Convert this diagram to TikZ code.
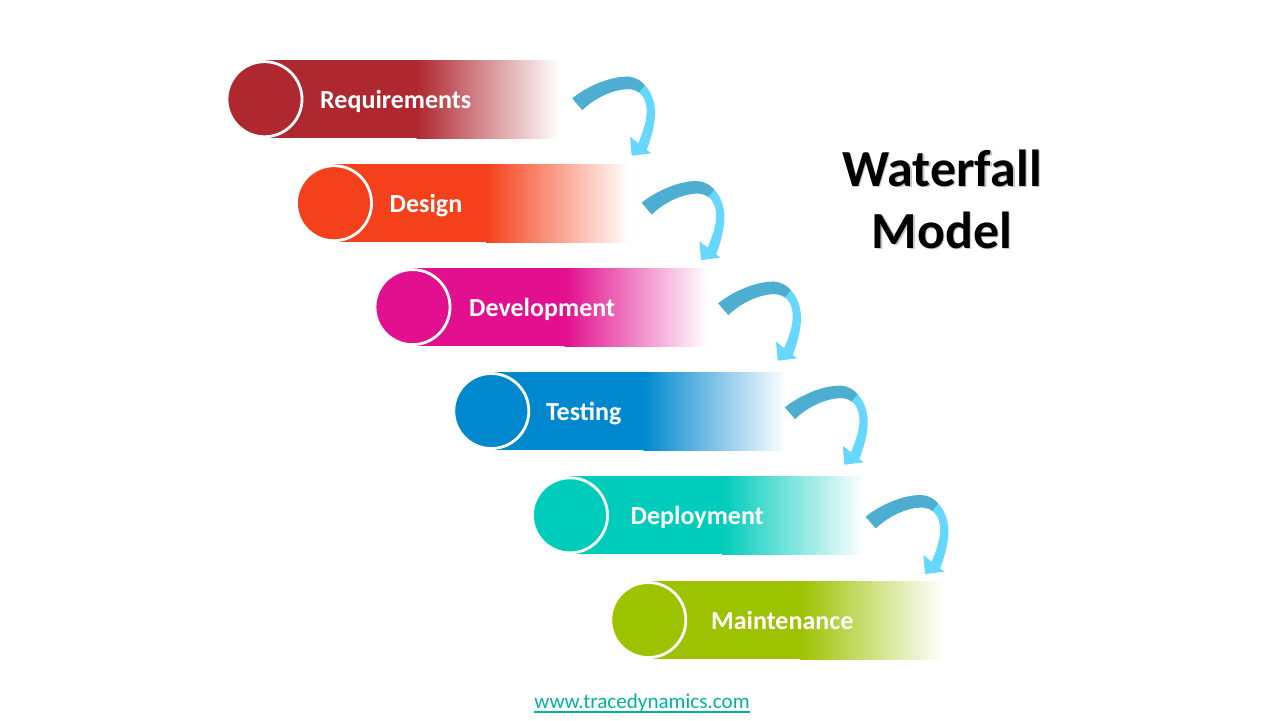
\documentclass[tikz,border=0pt]{standalone}
\usepackage{fontspec}
\setmainfont{Carlito}
\usetikzlibrary{calc,positioning}

\definecolor{reqred}{RGB}{175,39,47}
\definecolor{desorange}{RGB}{245,65,27}
\definecolor{devmagenta}{RGB}{226,15,142}
\definecolor{testblue}{RGB}{0,136,207}
\definecolor{depteal}{RGB}{0,204,187}
\definecolor{maingreen}{RGB}{157,194,0}
\definecolor{arrdark}{RGB}{77,174,209}
\definecolor{arrlight}{RGB}{102,215,255}
\definecolor{linkteal}{RGB}{0,178,160}

\tikzset{
  stepdot/.style={circle, inner sep=0pt, minimum size=7.5mm, draw=white, line width=0.8pt},
  steplabel/.style={anchor=base west, inner sep=0pt, text=white, font=\fontsize{7.4}{9}\selectfont\bfseries},
  titletext/.style={anchor=base, inner sep=0pt, font=\fontsize{14.8}{18}\selectfont\bfseries},
}

% curved arrow between two steps, tail corner at the origin
\newcommand{\fallarrowpath}{(0,0) .. controls (15,-12) and (38,-22) .. (56,-21.6)
  .. controls (70,-21) and (83.5,-5) .. (82.7,16.7)
  .. controls (82,30) and (78,42) .. (74.4,51.7) -- (78.7,55) -- (59.4,57.4) -- (57.7,38.4) -- (66,45)
  .. controls (70,35) and (75,22) .. (74.4,11.7)
  .. controls (74,0) and (68,-9) .. (56,-9.3)
  .. controls (40,-9) and (22,0) .. (10,11.7) -- cycle}

\begin{document}
\begin{tikzpicture}[x=0.01cm, y=-0.01cm]
    \useasboundingbox (0,0) rectangle (1280,720);

    % steps
    \foreach \name/\col/\cx/\cy/\tx [count=\i] in {
        Requirements/reqred/264.5/99.2/55,
        Design/desorange/334/203.2/55,
        Development/devmagenta/412.5/307.1/56,
        Testing/testblue/491.3/411/54,
        Deployment/depteal/570/515.3/60,
        Maintenance/maingreen/648.3/620/62}
    {
    \fill[\col] (\cx,\cy-39) rectangle (\cx+153,\cy+39);
    \shade[left color=\col, right color=white] (\cx+152,\cy-39) rectangle (\cx+295,\cy+39);
    \node[stepdot, fill=\col] (c\i) at (\cx,\cy) {};
    \node[steplabel] (t\i) at ($(c\i)+(\tx,9.5)$) {\name};
    }

    % arrows
    \foreach \ax/\ay [count=\i] in {572.3/98.3, 641.7/202.7, 718.3/303.3, 785/407.3, 865.7/516.7}
    {
    \coordinate (a\i) at (\ax,\ay);
    \begin{scope}[shift={(a\i)}]
        \fill[arrlight] \fallarrowpath;
        \begin{scope}
            \clip (94,-41) -- (31,40) -- (-20,40) -- (-20,-41) -- cycle;
            \fill[arrdark] \fallarrowpath;
        \end{scope}
    \end{scope}
    }

    % title
    \node[titletext, text=black!22] (shadow1) at (943.5,187.5) {Waterfall};
    \node[titletext, text=black!22] (shadow2) at (943.5,249.5) {Model};
    \node[titletext] (title1) at (942,186) {Waterfall};
    \node[titletext] (title2) at (942,248) {Model};

    \node[anchor=base, inner sep=0pt, text=linkteal, font=\fontsize{6}{7}\selectfont] (link) at (642,708) {www.tracedynamics.com};
    \draw[linkteal, line width=0.35pt] ($(link.base west)+(0,4)$) -- ($(link.base east)+(0,4)$);
\end{tikzpicture}
\end{document}
